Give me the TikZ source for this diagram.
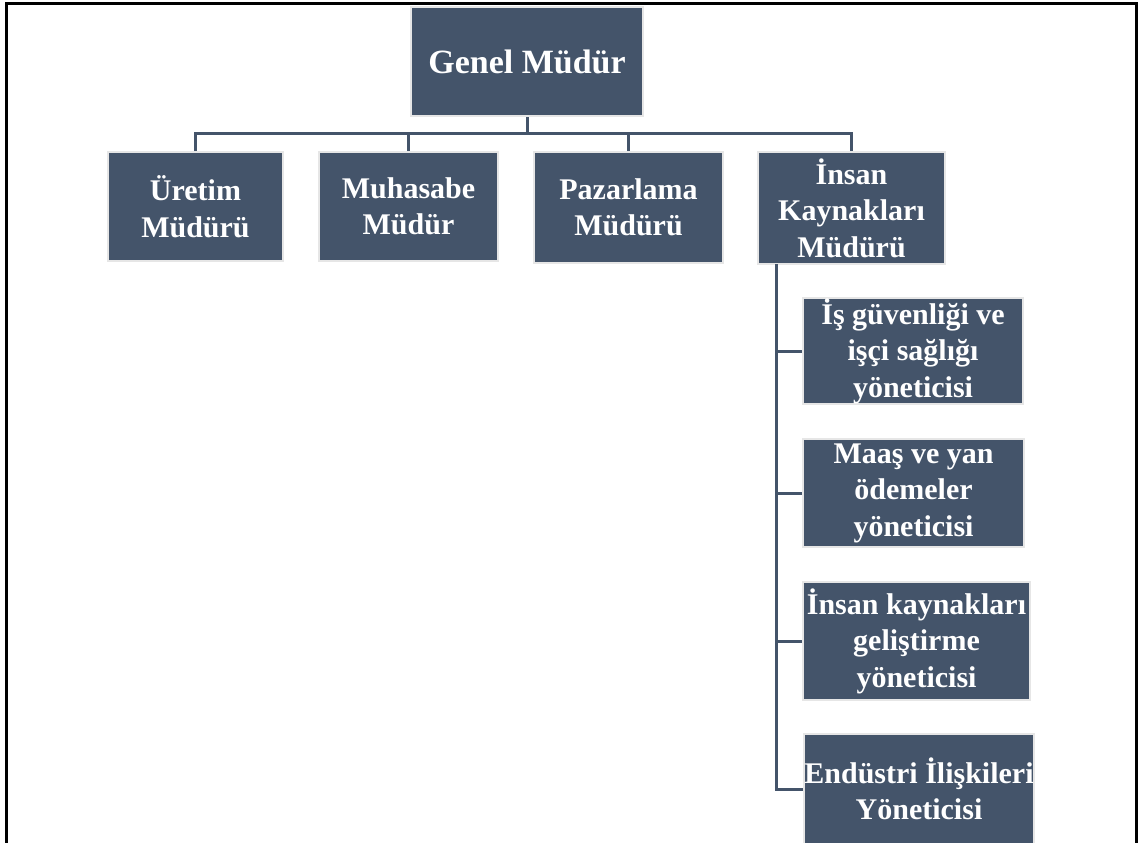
\documentclass[tikz,border=0pt]{standalone}
\usepackage{fontspec}
\setmainfont{Liberation Serif}
\definecolor{slate}{HTML}{44546A}
\definecolor{rim}{HTML}{E6E6E6}
\begin{document}
\begin{tikzpicture}[x=1pt,y=-1pt,
  unitbox/.style={draw=rim,line width=2pt,fill=slate,text=white,align=center,inner sep=0pt,
    font=\fontsize{30}{36.5}\selectfont\bfseries},
  link/.style={draw=slate,line width=3pt}]
\useasboundingbox (0,0) rectangle (1138,843);
% frame (open at the bottom)
\draw[line width=3pt] (6,843) -- (6,4) -- (1136,4) -- (1136,843);
% top level
\node[unitbox,minimum width=232pt,minimum height=109pt,font=\fontsize{34}{40}\selectfont\bfseries] (genel) at (527,61.5) {Genel Müdür};
% managers
\node[unitbox,minimum width=175pt,minimum height=109pt] (uretim) at (195.5,206.5) {Üretim\\Müdürü};
\node[unitbox,minimum width=179pt,minimum height=109pt] (muhasebe) at (408.5,206.5) {Muhasabe\\Müdür};
\node[unitbox,minimum width=189pt,minimum height=111pt] (pazarlama) at (628.5,207.5) {Pazarlama\\Müdürü};
\node[unitbox,minimum width=187pt,minimum height=112pt] (ik) at (851.5,208) {İnsan\\Kaynakları\\Müdürü};
% under human resources
\node[unitbox,minimum width=220pt,minimum height=106pt] (isg) at (913,351) {İş güvenliği ve\\işçi sağlığı\\yöneticisi};
\node[unitbox,minimum width=221pt,minimum height=108pt] (maas) at (913.5,493) {Maaş ve yan\\ödemeler\\yöneticisi};
\node[unitbox,minimum width=227pt,minimum height=118pt] (ikg) at (916.5,641) {İnsan kaynakları\\geliştirme\\yöneticisi};
\node[unitbox,minimum width=230pt,minimum height=110pt] (endustri) at (919,789) {Endüstri İlişkileri\\Yöneticisi};
% connectors
\coordinate (bus) at (0,133.5);
\coordinate (trunk) at (776,264);
\draw[link] (genel.south) -- (genel.south |- bus);
\draw[link] (uretim.north) -- (uretim.north |- bus) -- (ik.north |- bus) -- (ik.north);
\draw[link] (muhasebe.north) -- (muhasebe.north |- bus);
\draw[link] (pazarlama.north) -- (pazarlama.north |- bus);
\draw[link] (trunk) |- (endustri.west);
\draw[link] (trunk |- isg.west) -- (isg.west);
\draw[link] (trunk |- maas.west) -- (maas.west);
\draw[link] (trunk |- ikg.west) -- (ikg.west);
\end{tikzpicture}
\end{document}
